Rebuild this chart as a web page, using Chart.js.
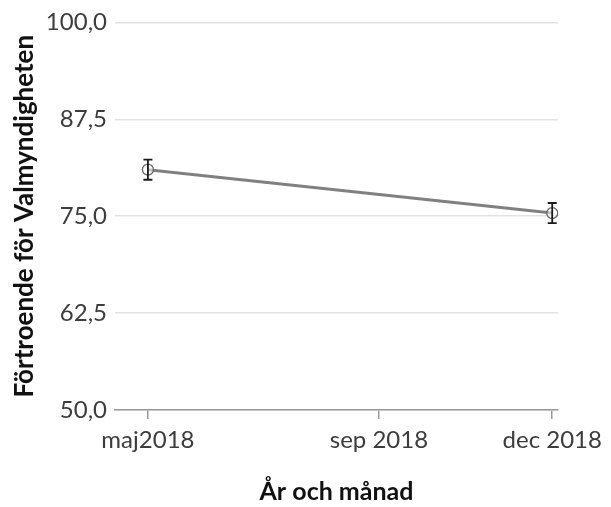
<!DOCTYPE html>
<html>
<head>
<meta charset="utf-8">
<script src="https://cdn.jsdelivr.net/npm/chart.js@4"></script>
<style>
  html, body { margin: 0; padding: 0; background: #fff; }
  #wrap { width: 611px; height: 507px; }
</style>
</head>
<body>
<div id="wrap"><canvas id="chart"></canvas></div>
<script>
const tickMonths = [0, 4, 7];
const tickLabels = ['maj2018', 'sep 2018', 'dec 2018'];
const pointMonths = [0, 7];
const trustValues = [81.0, 75.4];
const errLow = [79.7, 74.1];
const errHigh = [82.3, 76.7];
const yTicks = [50, 62.5, 75, 87.5, 100];

const fontFamily = 'Lato, "Open Sans", sans-serif';

const errorBars = {
  id: 'errorBars',
  afterDatasetsDraw(chart) {
    const { ctx, scales: { x, y } } = chart;
    ctx.save();
    ctx.strokeStyle = '#1a1a1a';
    ctx.lineWidth = 1.8;
    pointMonths.forEach((m, i) => {
      const px = x.getPixelForValue(m);
      const top = y.getPixelForValue(errHigh[i]);
      const bot = y.getPixelForValue(errLow[i]);
      ctx.beginPath();
      ctx.moveTo(px, top); ctx.lineTo(px, bot);
      ctx.moveTo(px - 4.5, top); ctx.lineTo(px + 4.5, top);
      ctx.moveTo(px - 4.5, bot); ctx.lineTo(px + 4.5, bot);
      ctx.stroke();
    });
    ctx.restore();
  },
};

new Chart(document.getElementById('chart'), {
  type: 'line',
  data: {
    datasets: [
      {
        data: pointMonths.map((m, i) => ({ x: m, y: trustValues[i] })),
        borderColor: '#808080',
        borderWidth: 3,
        pointRadius: 5.5,
        pointBorderWidth: 1.3,
        pointBorderColor: '#666',
        pointBackgroundColor: 'rgba(255,255,255,0.5)',
        tension: 0,
      },
    ],
  },
  options: {
    responsive: true,
    maintainAspectRatio: false,
    animation: false,
    layout: { padding: { top: 20, right: 53, bottom: 0, left: 0 } },
    plugins: { legend: { display: false }, tooltip: { enabled: false } },
    scales: {
      x: {
        type: 'linear',
        min: -0.57,
        max: 7.1,
        afterBuildTicks(scale) {
          scale.ticks = tickMonths.map((v) => ({ value: v }));
        },
        afterFit(scale) { scale.height = 97; },
        ticks: {
          autoSkip: false,
          maxRotation: 0,
          color: '#3c3c3c',
          font: { family: fontFamily, size: 24 },
          padding: 7,
          callback: (v) => tickLabels[tickMonths.indexOf(v)],
        },
        grid: { drawOnChartArea: false, tickLength: 9, color: '#999', lineWidth: 1.5 },
        border: { color: '#999', width: 1.5 },
        title: {
          display: true,
          text: 'År och månad',
          color: '#111',
          font: { family: fontFamily, size: 25, weight: 'bold' },
          padding: { top: 10, bottom: 0 },
        },
      },
      y: {
        min: 50,
        max: 100,
        afterBuildTicks(scale) {
          scale.ticks = yTicks.map((v) => ({ value: v }));
        },
        afterFit(scale) { scale.width = 115; },
        ticks: {
          color: '#3c3c3c',
          font: { family: fontFamily, size: 24 },
          padding: 8,
          callback: (v) => v.toFixed(1).replace('.', ','),
        },
        grid: { color: '#e2e2e2', lineWidth: 1.5, drawTicks: false },
        border: { display: false },
        title: {
          display: true,
          text: 'Förtroende för Valmyndigheten',
          color: '#111',
          font: { family: fontFamily, size: 26, weight: 'bold' },
          padding: { top: 9, bottom: 0 },
        },
      },
    },
  },
  plugins: [errorBars],
});
</script>
</body>
</html>
